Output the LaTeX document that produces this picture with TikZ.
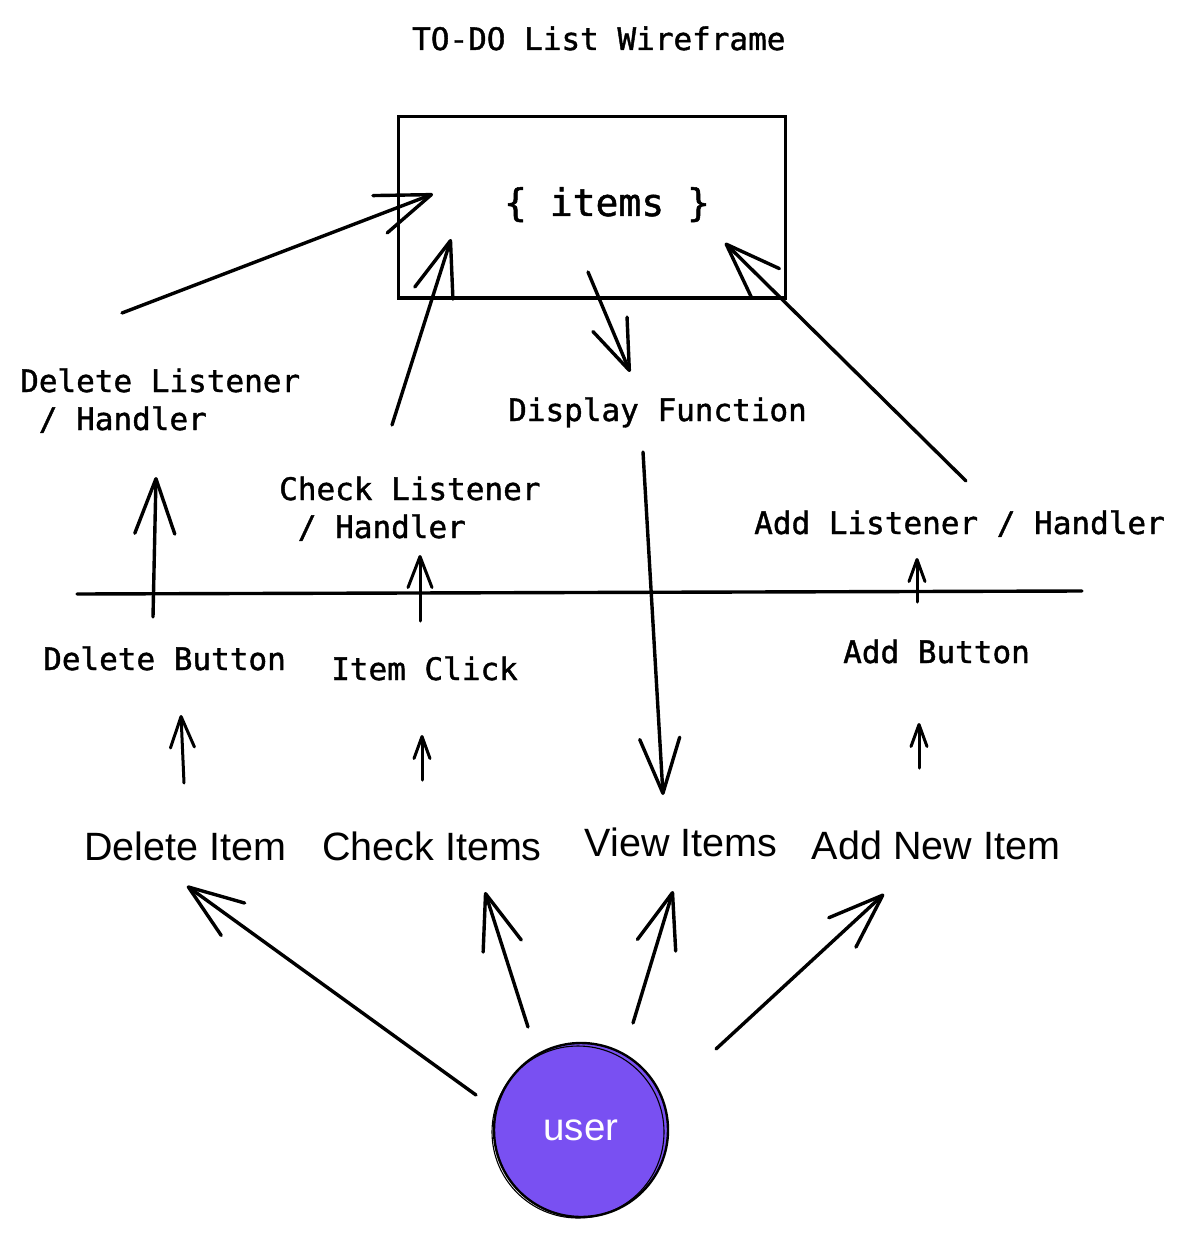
\documentclass[tikz,border=0pt]{standalone}
\usepackage{fontspec}
\setmainfont{Liberation Sans}
\newfontfamily\monofont[FakeBold=1.3]{DejaVu Sans Mono}
\usetikzlibrary{arrows.meta}
\definecolor{userviolet}{HTML}{7950F2}
\begin{document}
\begin{tikzpicture}[x=1pt,y=-1pt,
  mono/.style={font=\monofont\fontsize{31}{38}\selectfont, inner sep=0pt},
  monobig/.style={font=\monofont\fontsize{38}{44}\selectfont, inner sep=0pt},
  sans/.style={font=\fontsize{39.5}{47}\selectfont, inner sep=0pt},
  conn/.style={line width=3.4pt, line cap=round, line join=round},
  bigarr/.style={conn, -{Straight Barb[length=55pt,width=40pt,round]}},
  smallarr/.style={conn, line width=3pt, -{Straight Barb[length=31pt,width=24pt,round]}},
  tinyarr/.style={conn, line width=3pt, -{Straight Barb[length=22pt,width=16pt,round]}},
  boxstyle/.style={draw, line width=3pt, minimum width=387pt, minimum height=181pt, inner sep=0pt},
  userstyle/.style={circle, fill=userviolet, draw, line width=2.4pt, minimum size=174pt, inner sep=0pt,
    text=white, font=\fontsize{38.5}{44}\selectfont}
]
\fill[white] (0,0) rectangle (1185,1238);
\useasboundingbox (0,0) rectangle (1185,1238);

% title
\node[mono, anchor=base west] (title) at (412,50) {TO-DO List Wireframe};

% store box
\node[boxstyle] (box) at (591.5,207.5) {};
\node[monobig, anchor=base] (items) at (607,216) {\{ items \}};

% mono labels (two-line nodes: base anchor is on the last line)
\node[mono, anchor=base west, align=left] (dlist) at (20,430) {Delete Listener\\\hphantom{/}/ Handler};
\node[mono, anchor=base west, align=left] (clist) at (279,538) {Check Listener\\\hphantom{/}/ Handler};
\node[mono, anchor=base west] (disp) at (508,421) {Display Function};
\node[mono, anchor=base west] (alist) at (754,534) {Add Listener / Handler};
\node[mono, anchor=base west] (dbtn) at (43,670) {Delete Button};
\node[mono, anchor=base west] (iclick) at (331,680) {Item Click};
\node[mono, anchor=base west] (abtn) at (843,663) {Add Button};

% sans labels
\node[sans, anchor=base] (delitem) at (185,860) {Delete Item};
\node[sans, anchor=base] (chkitem) at (432,860) {Check Items};
\node[sans, anchor=base] (viewitem) at (681,856) {View Items};
\node[sans, anchor=base] (additem) at (936,859) {Add New Item};

% user
\node[userstyle] (user) at (581,1130) {user};
\draw[line width=1.1pt] ([shift={(-3,2)}]user.center) circle (86);

% connector end points
\coordinate (dlS) at (122,313); \coordinate (dlE) at (433,194);
\coordinate (clS) at (392,425); \coordinate (clE) at (451,239);
\coordinate (idS) at (588,272); \coordinate (idE) at (630,372);
\coordinate (alS) at (966,481); \coordinate (alE) at (725,243);
\coordinate (dbS) at (153,617); \coordinate (dbE) at (156,477);
\coordinate (icS) at (420,621); \coordinate (icE) at (420,555);
\coordinate (abS) at (917,602); \coordinate (abE) at (917,558);
\coordinate (hlL) at (77,594);  \coordinate (hlR) at (1082,591);
\coordinate (dvS) at (643,452); \coordinate (dvE) at (663,795);
\coordinate (diS) at (184,783); \coordinate (diE) at (181,715);
\coordinate (ciS) at (422,780); \coordinate (ciE) at (422,735);
\coordinate (aiS) at (919,768); \coordinate (aiE) at (919,723);
\coordinate (u1S) at (476,1095); \coordinate (u1E) at (187,886);
\coordinate (u2S) at (528,1027); \coordinate (u2E) at (485,892);
\coordinate (u3S) at (633,1023); \coordinate (u3E) at (673,891);
\coordinate (u4S) at (716,1049); \coordinate (u4E) at (884,894);

% connectors
\draw[bigarr] (dlS) -- (dlE);
\draw[bigarr] (clS) -- (clE);
\draw[bigarr, -{Straight Barb[length=50pt,width=37pt,round]}] (idS) -- (idE);
\draw[bigarr] (alS) -- (alE);
\draw[bigarr] (dbS) -- (dbE);
\draw[smallarr] (icS) -- (icE);
\draw[tinyarr] (abS) -- (abE);
\draw[conn] (hlL) -- (hlR);
\draw[bigarr] (dvS) -- (dvE);
\draw[smallarr] (diS) -- (diE);
\draw[tinyarr] (ciS) -- (ciE);
\draw[tinyarr] (aiS) -- (aiE);
\draw[bigarr] (u1S) -- (u1E);
\draw[bigarr] (u2S) -- (u2E);
\draw[bigarr] (u3S) -- (u3E);
\draw[bigarr] (u4S) -- (u4E);
\end{tikzpicture}
\end{document}
